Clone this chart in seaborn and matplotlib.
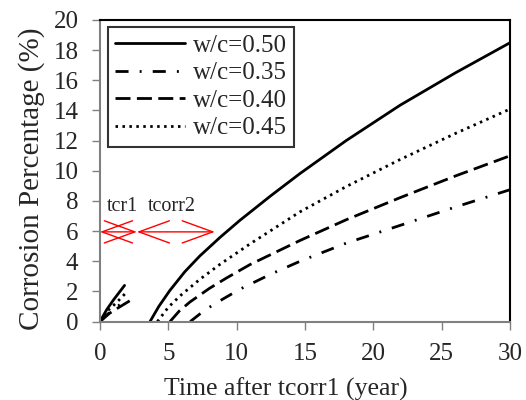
import numpy as np
import pandas as pd
import seaborn as sns
import matplotlib
matplotlib.use("Agg")
import matplotlib.pyplot as plt

# series values (first short segment + main segment)
labels = ["w/c=0.50", "w/c=0.35", "w/c=0.40", "w/c=0.45"]

early_x = {
    "w/c=0.50": [0, 0.5, 1.0, 1.8],
    "w/c=0.35": [0, 0.5, 1.0, 1.7],
    "w/c=0.40": [0, 0.7, 1.4, 2.4],
    "w/c=0.45": [0, 0.6, 1.2, 2.0],
}
early_y = {
    "w/c=0.50": [0, 0.8, 1.45, 2.4],
    "w/c=0.35": [0, 0.45, 0.8, 1.3],
    "w/c=0.40": [0, 0.55, 0.95, 1.5],
    "w/c=0.45": [0, 0.75, 1.25, 2.0],
}
main_x = {
    "w/c=0.50": [3.66, 4.3, 5.1, 6.2, 7.3, 8.8, 10.24, 12.5, 14.63, 18, 21.95, 26, 30],
    "w/c=0.35": [6.6, 7.3, 8.0, 9.0, 10.24, 12.5, 14.63, 18, 21.95, 26, 30],
    "w/c=0.40": [5.12, 5.8, 6.58, 8.0, 9.27, 10.97, 14.63, 18, 21.95, 26, 30],
    "w/c=0.45": [4.2, 5.0, 5.85, 7.3, 8.78, 10.97, 14.63, 18, 21.95, 26, 30],
}
main_y = {
    "w/c=0.50": [0, 1.0, 2.05, 3.3, 4.35, 5.6, 6.72, 8.35, 9.82, 12.0, 14.35, 16.5, 18.5],
    "w/c=0.35": [0, 0.5, 0.95, 1.5, 2.15, 3.15, 4.0, 5.2, 6.38, 7.6, 8.75],
    "w/c=0.40": [0, 0.7, 1.3, 2.2, 2.9, 3.78, 5.38, 6.75, 8.22, 9.66, 11.0],
    "w/c=0.45": [0, 0.95, 1.7, 2.8, 3.8, 5.15, 7.28, 8.95, 10.75, 12.48, 14.1],
}

styles = {
    "w/c=0.50": "-",
    "w/c=0.35": (0, (4.7, 4, 0.7, 4)),
    "w/c=0.40": (0, (5.4, 2.3)),
    "w/c=0.45": (0, (0.9, 1.6)),
}

xticks = [0, 5, 10, 15, 20, 25, 30]
yticks = [0, 2, 4, 6, 8, 10, 12, 14, 16, 18, 20]

sns.set_style("white")
plt.rcParams["font.family"] = ["Liberation Serif", "DejaVu Serif"]

fig = plt.figure(figsize=(5.26, 4.0), dpi=100)
ax = fig.add_axes([0.190, 0.196, 0.780, 0.754])

for lab in labels:
    lw = 2.0
    sns.lineplot(x=early_x[lab], y=early_y[lab], ax=ax, color="black",
                 linestyle=styles[lab], linewidth=lw, sort=False, estimator=None)
    sns.lineplot(x=main_x[lab], y=main_y[lab], ax=ax, color="black",
                 linestyle=styles[lab], linewidth=lw, sort=False, estimator=None,
                 label=lab)

ax.set_xlim(0, 30)
ax.set_ylim(0, 20)
ax.set_xticks(xticks)
ax.set_yticks(yticks)
ax.tick_params(axis="both", labelsize=18, direction="out", length=6,
               width=1, color="#808080", pad=9.5)
ax.tick_params(axis="both", left=True, bottom=True)

for side in ["left", "bottom"]:
    ax.spines[side].set_color("#808080")
    ax.spines[side].set_linewidth(1.5)
for side in ["top", "right"]:
    ax.spines[side].set_color("black")
    ax.spines[side].set_linewidth(1.5)

ax.set_xlabel("Time after tcorr1 (year)", fontsize=18.5)
ax.set_ylabel("Corrosion Percentage (%)", fontsize=21)
ax.xaxis.set_label_coords(0.454, -0.186)
ax.yaxis.set_label_coords(-0.134, 0.475)

# red double arrows
arrow_kw = dict(arrowstyle="<->,head_length=2.2,head_width=0.8", color="red",
                lw=1.0, shrinkA=0, shrinkB=0, mutation_scale=10)
ax.annotate("", xy=(2.7, 5.95), xytext=(0, 5.95), arrowprops=arrow_kw,
            annotation_clip=False)
ax.annotate("", xy=(8.4, 5.95), xytext=(2.7, 5.95), arrowprops=arrow_kw)
ax.text(0.5, 7.6, "tcr1", fontsize=14.5, va="center", ha="left")
ax.text(3.5, 7.6, "tcorr2", fontsize=14.5, va="center", ha="left")

leg = ax.legend(loc="upper left", bbox_to_anchor=(0.0195, 0.977), fontsize=18,
                frameon=True, fancybox=False, handlelength=2.8,
                handletextpad=0.3, labelspacing=0.2, borderpad=0.3,
                borderaxespad=0)
leg.get_frame().set_edgecolor("black")
leg.get_frame().set_linewidth(1.5)

fig.savefig("out.png", dpi=100)
